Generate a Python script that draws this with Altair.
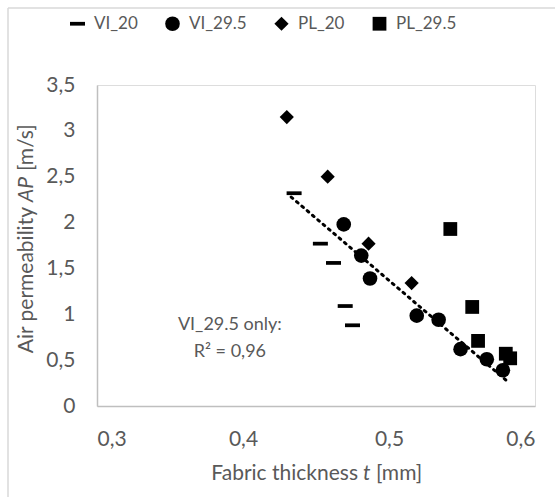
import altair as alt
import pandas as pd

series_names = ["VI_20", "VI_29.5", "PL_20", "PL_29.5"]

vi20_x = [0.435, 0.453, 0.462, 0.470, 0.475]
vi20_y = [2.32, 1.77, 1.56, 1.09, 0.88]

vi295_x = [0.469, 0.481, 0.487, 0.519, 0.534, 0.549, 0.567, 0.578]
vi295_y = [1.98, 1.64, 1.39, 0.985, 0.94, 0.62, 0.51, 0.39]

pl20_x = [0.430, 0.458, 0.486, 0.5155]
pl20_y = [3.15, 2.50, 1.77, 1.34]

pl295_x = [0.542, 0.557, 0.561, 0.580, 0.583]
pl295_y = [1.93, 1.08, 0.71, 0.57, 0.52]

trend_extent = [0.433, 0.582]
annot_text = ["VI_29.5 only:", "R² = 0,96"]
annot_x = [0.391, 0.391]
annot_y = [0.88, 0.585]

# axis title pieces (normal / italic / normal)
xtitle_parts = ["Fabric thickness", "t", "[mm]"]
ytitle_parts = ["Air permeability", "AP", "[m/s]"]

rows = []
for name, xs, ys in zip(series_names, [vi20_x, vi295_x, pl20_x, pl295_x],
                        [vi20_y, vi295_y, pl20_y, pl295_y]):
    for a, b in zip(xs, ys):
        rows.append({"series": name, "t": a, "ap": b})
df = pd.DataFrame(rows)

annot = pd.DataFrame({"text": annot_text, "t": annot_x, "ap": annot_y})
one = pd.DataFrame({"k": [0]})

FONT = "Lato"
GRAY = "#595959"
dash = "M-1,-0.25L1,-0.25L1,0.25L-1,0.25Z"

xscale = alt.Scale(domain=[0.3, 0.6], nice=False, zero=False)
yscale = alt.Scale(domain=[0, 3.5], nice=False)
lab = "replace(toString(datum.value), '.', ',')"

legend = alt.Legend(title=None, orient="none", direction="horizontal",
                    legendX=-28, legendY=-70, labelFontSize=17, labelFont=FONT,
                    labelColor=GRAY, columnPadding=26, symbolStrokeWidth=0,
                    symbolFillColor="black", labelOffset=8)

points = alt.Chart(df).mark_point(filled=True, opacity=1, color="black").encode(
    x=alt.X("t:Q", scale=xscale,
            axis=alt.Axis(title=None, values=[0.3, 0.4, 0.5, 0.6],
                          labelExpr=lab, grid=False, ticks=False, domainColor="#bfbfbf",
                          domainWidth=1.5, labelColor=GRAY,
                          labelFontSize=21, labelFont=FONT, labelPadding=22)),
    y=alt.Y("ap:Q", scale=yscale,
            axis=alt.Axis(title=None, values=[0, 0.5, 1, 1.5, 2, 2.5, 3, 3.5],
                          labelExpr=lab, grid=False, ticks=False, domainColor="#bfbfbf",
                          domainWidth=1.5, labelColor=GRAY,
                          labelFontSize=21, labelFont=FONT, labelPadding=22)),
    shape=alt.Shape("series:N", scale=alt.Scale(domain=series_names,
                                                range=[dash, "circle", "diamond", "square"]),
                    legend=legend),
    size=alt.Size("series:N", scale=alt.Scale(domain=series_names, range=[225, 190, 170, 240]),
                  legend=legend),
)

trend = alt.Chart(df).transform_filter(alt.datum.series == "VI_29.5").transform_regression(
    "t", "ap", extent=trend_extent
).mark_line(color="black", strokeDash=[2, 5], strokeWidth=3, strokeCap="round").encode(
    x=alt.X("t:Q", scale=xscale), y=alt.Y("ap:Q", scale=yscale)
)

text = alt.Chart(annot).mark_text(font=FONT, fontSize=18, color=GRAY).encode(
    x=alt.X("t:Q", scale=xscale), y=alt.Y("ap:Q", scale=yscale), text="text:N"
)

def title_piece(s, x, y, align, italic=False, angle=0):
    kw = dict(font=FONT, fontSize=21, color=GRAY, align=align, baseline="middle",
              text=s, angle=angle)
    if italic:
        kw["fontStyle"] = "italic"
    return alt.Chart(one).mark_text(**kw).encode(x=alt.value(x), y=alt.value(y))

xt = [
    title_piece(xtitle_parts[0], 261, 389, "right"),
    title_piece(xtitle_parts[1], 266, 389, "left", italic=True),
    title_piece(xtitle_parts[2], 279, 389, "left"),
]
yt = [
    title_piece(ytitle_parts[0], -70, 122, "right", angle=270),
    title_piece(ytitle_parts[1], -70, 117, "left", italic=True, angle=270),
    title_piece(ytitle_parts[2], -70, 86, "left", angle=270),
]

border_l = alt.Chart(one).mark_rule(color="#d9d9d9", strokeWidth=1.5).encode(
    x=alt.value(-89), y=alt.value(-77), y2=alt.value(420)
)
border_t = alt.Chart(one).mark_rule(color="#d9d9d9", strokeWidth=1.5).encode(
    x=alt.value(-89), x2=alt.value(470), y=alt.value(-77)
)

chart = alt.layer(border_l, border_t, trend, points, text, *xt, *yt).properties(
    width=438, height=321,
    autosize=alt.AutoSizeParams(type="none"),
    padding={"left": 97, "top": 85, "right": 20, "bottom": 91},
).configure_view(stroke=None).configure(background="white")

chart.save("out.html", embed_options={"renderer": "svg", "actions": False})
